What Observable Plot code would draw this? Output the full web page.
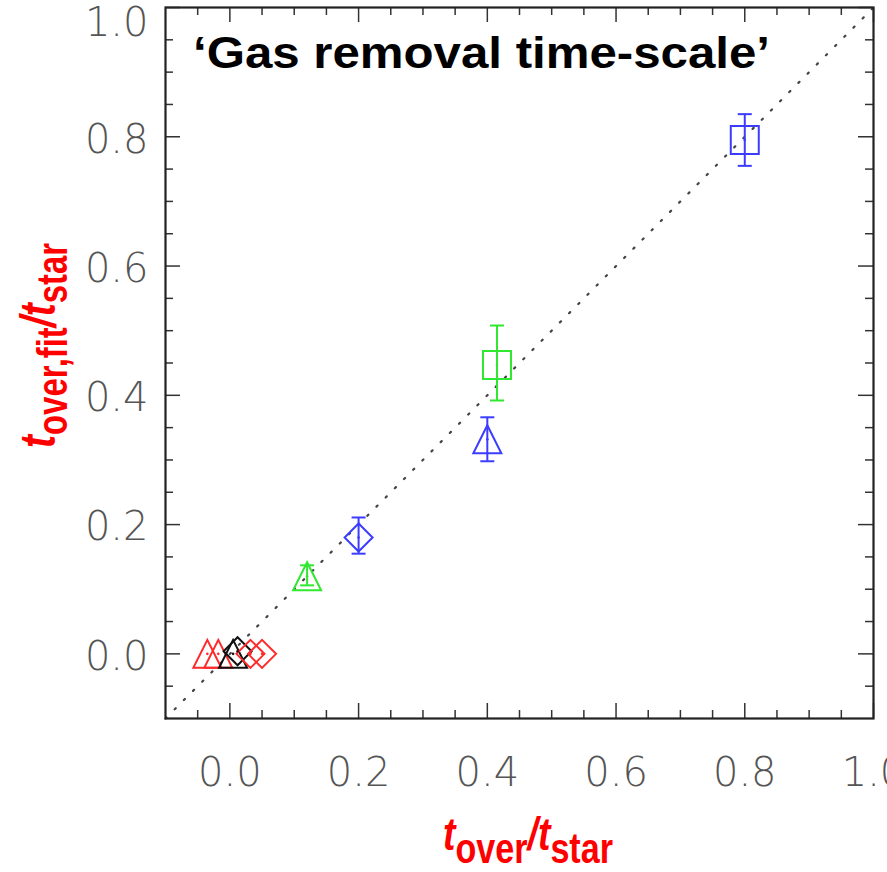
<!DOCTYPE html>
<html>
<head>
<meta charset="utf-8">
<script src="https://cdn.jsdelivr.net/npm/d3@7"></script>
<script src="https://cdn.jsdelivr.net/npm/@observablehq/plot@0.6"></script>
<style>
  html, body { margin: 0; padding: 0; background: #fff; }
  #chart svg { display: block; }
</style>
</head>
<body>
<div id="chart"></div>
<script>
// ---- data ----
const titleText = "\u2018Gas removal time-scale\u2019";
const xLabelMain = ["t", "/", "t"];
const xLabelSubs = ["over", "star"];
const yLabelSubs = ["over,fit", "star"];

const pX     = [0.80, 0.415, 0.40, 0.20, 0.12, -0.035, -0.018, 0.005, 0.012, 0.032, 0.050];
const pY     = [0.795, 0.447, 0.332, 0.180, 0.120, 0.0, 0.0, 0.0, 0.004, 0.0, 0.0];
const pLo    = [0.755, 0.392, 0.298, 0.155, 0.106, null, null, null, null, null, null];
const pHi    = [0.835, 0.508, 0.366, 0.211, 0.137, null, null, null, null, null, null];
const pShape = ["square", "square", "triangle", "diamond", "triangle", "triangle", "triangle", "triangle", "diamond", "diamond", "diamond"];
const pColor = ["#3c3cff", "#2fe82f", "#3c3cff", "#3c3cff", "#2fe82f", "#ff2a2a", "#ff2a2a", "#111111", "#111111", "#ff2a2a", "#ff2a2a"];

const majorTicks = [0.0, 0.2, 0.4, 0.6, 0.8, 1.0];
const yLabelTicks = [0.0, 0.2, 0.4, 0.6, 0.8];
const yTopTick = [1.0];
const minorTicks = [-0.05, 0.05, 0.1, 0.15, 0.25, 0.3, 0.35, 0.45, 0.5, 0.55, 0.65, 0.7, 0.75, 0.85, 0.9, 0.95];
const diagonal = [-0.1, 1.0];
const domainXY = [-0.1, 1.0];

// ---- build table ----
const points = pX.map((x, i) => ({x, y: pY[i], lo: pLo[i], hi: pHi[i], shape: pShape[i], color: pColor[i]}));
const withErr = points.filter(d => d.lo != null);

// IDL-like symbols
const rOf = size => Math.sqrt(size / Math.PI);
const symSquare = {draw(c, s) { const r = rOf(s); c.moveTo(-r, -r); c.lineTo(r, -r); c.lineTo(r, r); c.lineTo(-r, r); c.closePath(); }};
const symTriangle = {draw(c, s) { const r = rOf(s); c.moveTo(0, -r); c.lineTo(r, r); c.lineTo(-r, r); c.closePath(); }};
const symDiamond = {draw(c, s) { const r = rOf(s); c.moveTo(0, -r); c.lineTo(r, 0); c.lineTo(0, r); c.lineTo(-r, 0); c.closePath(); }};
const symCap = {draw(c, s) { const r = rOf(s); c.moveTo(-r, 0); c.lineTo(r, 0); }};
const symbols = {square: symSquare, triangle: symTriangle, diamond: symDiamond};

const W = 887, H = 872;
const mL = 165, mR = 14, mT = 7, mB = 154;
const FW = W - mL - mR, FH = H - mT - mB;
const MAJ = 15, MIN = 8;
const tickColor = "#333";
const labelColor = "#555";

const shapeMarks = Object.keys(symbols).map(k =>
  Plot.dot(points.filter(d => d.shape === k), {
    x: "x", y: "y", r: 14, symbol: symbols[k], stroke: "color", strokeWidth: 2, fill: "none"
  })
);

const axisOpts = {tickSize: 0, tickFormat: d => d.toFixed(1), fontSize: 40, fontWeight: 200, color: labelColor, label: null};

const plot = Plot.plot({
  width: W, height: H,
  marginLeft: mL, marginRight: mR, marginTop: mT, marginBottom: mB,
  x: {domain: domainXY},
  y: {domain: domainXY},
  color: {type: "identity"},
  style: {fontFamily: "'DejaVu Sans', sans-serif", background: "#fff"},
  marks: [
    // tick labels
    Plot.axisX(majorTicks, {...axisOpts, anchor: "bottom", tickPadding: 39}),
    Plot.axisY(yLabelTicks, {...axisOpts, anchor: "left", tickPadding: 17, dy: 3}),
    Plot.axisY(yTopTick, {...axisOpts, anchor: "left", tickPadding: 17, dy: 16}),
    // inward ticks on all four sides
    Plot.tickX(majorTicks, {x: d => d, insetTop: FH - MAJ, stroke: tickColor, strokeWidth: 1.5}),
    Plot.tickX(minorTicks, {x: d => d, insetTop: FH - MIN, stroke: tickColor, strokeWidth: 1.5}),
    Plot.tickX(majorTicks, {x: d => d, insetBottom: FH - MAJ, stroke: tickColor, strokeWidth: 1.5}),
    Plot.tickX(minorTicks, {x: d => d, insetBottom: FH - MIN, stroke: tickColor, strokeWidth: 1.5}),
    Plot.tickY(majorTicks, {y: d => d, insetRight: FW - MAJ, stroke: tickColor, strokeWidth: 1.5}),
    Plot.tickY(minorTicks, {y: d => d, insetRight: FW - MIN, stroke: tickColor, strokeWidth: 1.5}),
    Plot.tickY(majorTicks, {y: d => d, insetLeft: FW - MAJ, stroke: tickColor, strokeWidth: 1.5}),
    Plot.tickY(minorTicks, {y: d => d, insetLeft: FW - MIN, stroke: tickColor, strokeWidth: 1.5}),
    // one-to-one dotted line
    Plot.line(diagonal, {x: d => d, y: d => d, stroke: "#444", strokeWidth: 2.2, strokeDasharray: "1.5,11.5", strokeLinecap: "round"}),
    // error bars
    Plot.ruleX(withErr, {x: "x", y1: "lo", y2: "hi", stroke: "color", strokeWidth: 2}),
    Plot.dot(withErr, {x: "x", y: "lo", r: 7, symbol: symCap, stroke: "color", strokeWidth: 2, fill: "none"}),
    Plot.dot(withErr, {x: "x", y: "hi", r: 7, symbol: symCap, stroke: "color", strokeWidth: 2, fill: "none"}),
    // symbols
    ...shapeMarks,
    Plot.dot(points, {x: "x", y: "y", r: 1.3, fill: "color", stroke: null}),
    Plot.frame({stroke: "#222", strokeWidth: 2.2})
  ]
});

document.getElementById("chart").appendChild(plot);

// ---- texts with sub-scripts ----
const svg = d3.select(plot);

svg.append("text")
  .attr("x", 193).attr("y", 68)
  .attr("text-anchor", "start")
  .attr("font-family", "'Liberation Sans', Arial, sans-serif")
  .attr("font-weight", "bold")
  .attr("font-size", 44)
  .attr("fill", "#000")
  .attr("textLength", 577)
  .attr("lengthAdjust", "spacingAndGlyphs")
  .text(titleText);

function subLabel(g, main, subs, mainSize, subSize, subDy) {
  const t = g.append("text")
    .attr("text-anchor", "start")
    .attr("font-family", "'Liberation Sans', Arial, sans-serif")
    .attr("font-weight", "bold")
    .attr("fill", "#ff0000");
  t.append("tspan").attr("font-style", "italic").attr("font-size", mainSize).text(main[0]);
  t.append("tspan").attr("font-size", subSize).attr("dy", subDy).text(subs[0]);
  t.append("tspan").attr("font-style", "italic").attr("font-size", mainSize).attr("dy", -subDy).text(main[1]);
  t.append("tspan").attr("font-style", "italic").attr("font-size", mainSize).text(main[2]);
  t.append("tspan").attr("font-size", subSize).attr("dy", subDy).text(subs[1]);
  return t;
}

const xl = svg.append("g").attr("transform", "translate(443,850)");
subLabel(xl, xLabelMain, xLabelSubs, 46, 42, 13)
  .attr("textLength", 170).attr("lengthAdjust", "spacingAndGlyphs");

const yl = svg.append("g").attr("transform", "translate(55,448) rotate(-90)");
subLabel(yl, xLabelMain, yLabelSubs, 50, 42, 12)
  .attr("textLength", 205).attr("lengthAdjust", "spacingAndGlyphs");
</script>
</body>
</html>
